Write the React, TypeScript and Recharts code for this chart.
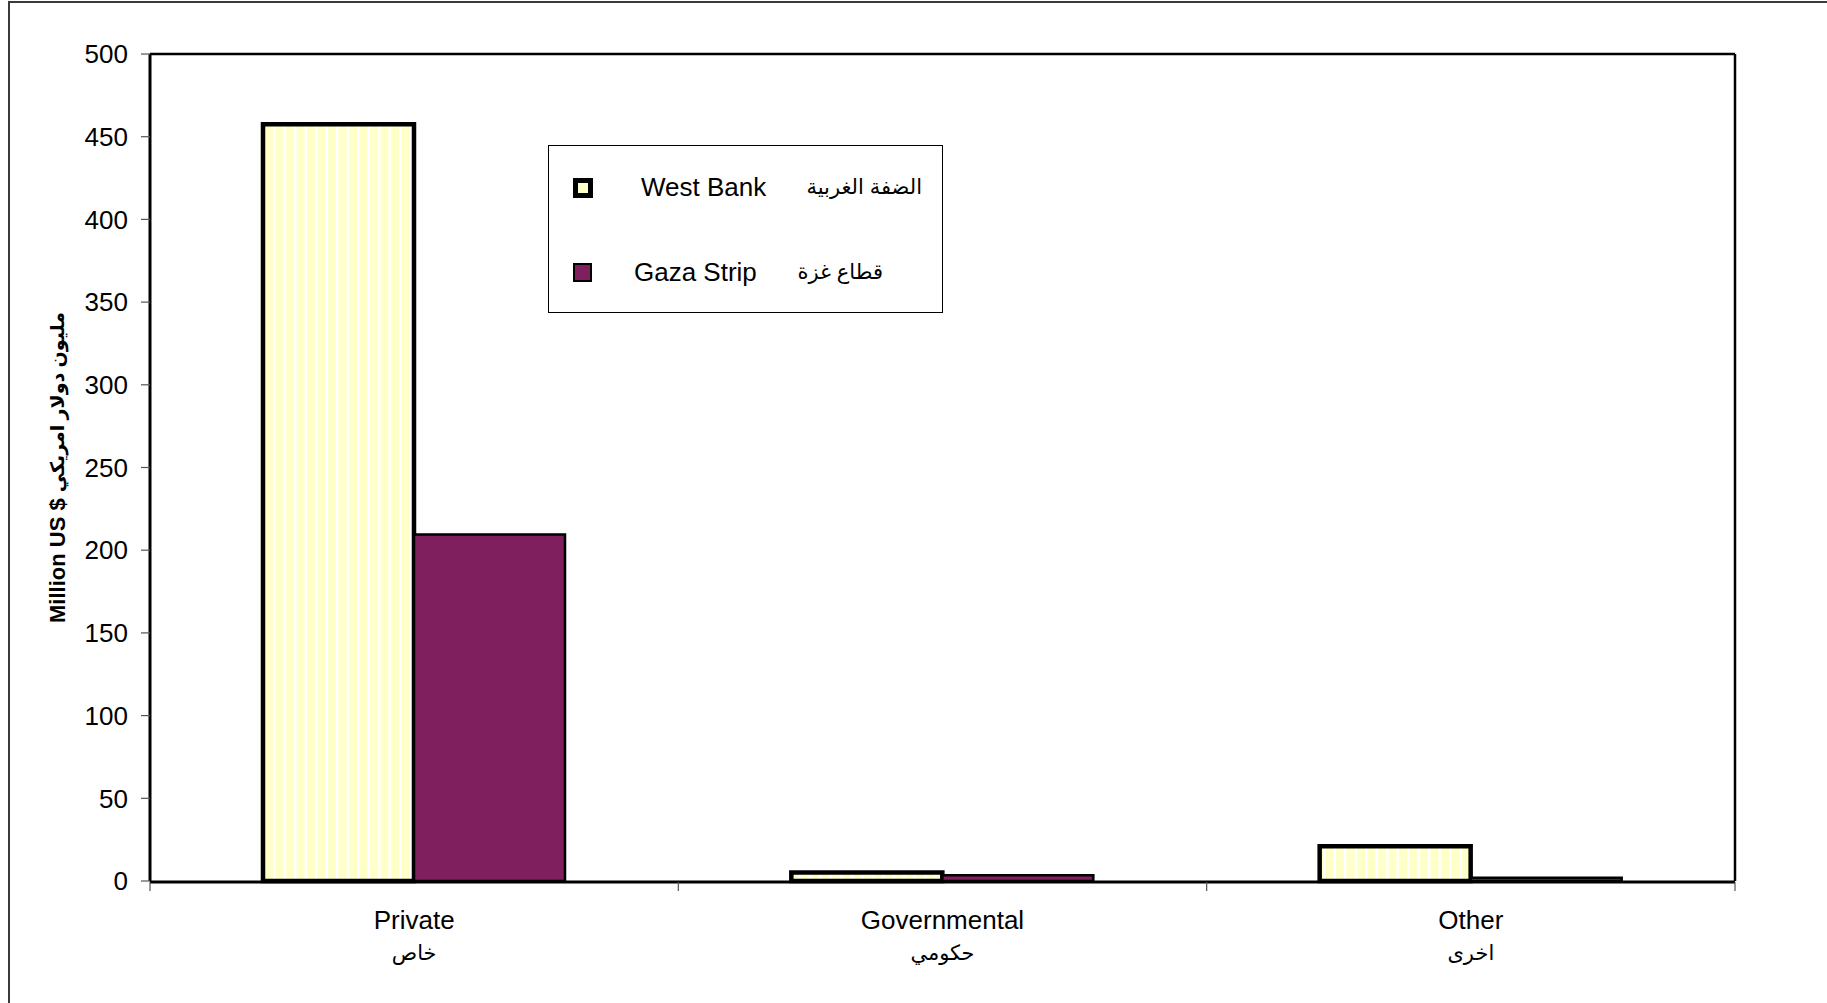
import React from 'react'
import {
  BarChart,
  Bar,
  XAxis,
  YAxis,
  Legend,
  Label,
} from 'recharts'

const categories = ['Private', 'Governmental', 'Other']
const categoriesAr = ['خاص', 'حكومي', 'اخرى']
const westBank = [457.5, 5.2, 21]
const gazaStrip = [209.5, 3.5, 2]
const yTicks = [0, 50, 100, 150, 200, 250, 300, 350, 400, 450, 500]
const edgeTicks = [0, 1, 2, 3]

const seriesOrder = ['westBank', 'gaza']
const seriesAr: Record<string, string> = {
  westBank: 'الضفة الغربية',
  gaza: 'قطاع غزة',
}

const FONT = '"Liberation Sans", Arial, "DejaVu Sans", sans-serif'
const YELLOW = '#FFFFC8'
const PLUM = '#801F5E'

const data = categories.map((name, i) => ({
  name,
  idx: i + 0.5,
  westBank: westBank[i],
  gaza: gazaStrip[i],
}))

// eslint-disable-next-line @typescript-eslint/no-explicit-any
function CategoryTick({ x, y, payload }: any) {
  const i = categories.indexOf(payload.value)
  return (
    <g>
      <text x={x} y={y + 46} textAnchor="middle" fontSize={26} fontFamily={FONT} fill="#000">
        {payload.value}
      </text>
      <text x={x} y={y + 77} textAnchor="middle" fontSize={21} fontFamily={FONT} fill="#000">
        {categoriesAr[i]}
      </text>
    </g>
  )
}

// eslint-disable-next-line @typescript-eslint/no-explicit-any
function LegendBox({ payload }: any) {
  const rows = [
    { top: 32, textY: 41, enLeft: 92, arRight: 20, size: 20, border: 5 },
    { top: 117, textY: 126, enLeft: 85, arRight: 59, size: 19, border: 2 },
  ]
  // eslint-disable-next-line @typescript-eslint/no-explicit-any
  const items = seriesOrder.map(k => (payload || []).find((p: any) => p.dataKey === k)).filter(Boolean)
  return (
    <div
      style={{
        position: 'relative',
        width: 395,
        height: 168,
        border: '1.5px solid #000',
        boxSizing: 'border-box',
        background: '#fff',
        fontFamily: FONT,
        color: '#000',
      }}
    >
      {/* eslint-disable-next-line @typescript-eslint/no-explicit-any */}
      {items.map((p: any, i: number) => {
        const r = rows[i]
        return (
          <React.Fragment key={p.dataKey}>
            <div
              style={{
                position: 'absolute',
                left: 24,
                top: r.top,
                width: r.size,
                height: r.size,
                boxSizing: 'border-box',
                border: `${r.border}px solid #000`,
                background: p.dataKey === 'gaza' ? PLUM : YELLOW,
              }}
            />
            <div
              style={{
                position: 'absolute',
                left: r.enLeft,
                top: r.textY - 16,
                fontSize: 26,
                lineHeight: '32px',
                whiteSpace: 'nowrap',
              }}
            >
              {p.value}
            </div>
            <div
              dir="rtl"
              style={{
                position: 'absolute',
                right: r.arRight,
                top: r.textY - 16,
                fontSize: 21,
                lineHeight: '32px',
                whiteSpace: 'nowrap',
              }}
            >
              {seriesAr[p.dataKey]}
            </div>
          </React.Fragment>
        )
      })}
    </div>
  )
}

export default function App() {
  return (
    <div style={{ position: 'absolute', left: 0, top: 0, width: 1827, height: 1003, background: '#fff' }}>
      <div
        style={{
          position: 'absolute',
          left: 8,
          top: 1,
          width: 1830,
          height: 1010,
          borderLeft: '2px solid #3a3a3a',
          borderTop: '2px solid #3a3a3a',
        }}
      />
      <div style={{ position: 'absolute', left: 0, top: 0 }}>
        <BarChart
          width={1827}
          height={1003}
          data={data}
          margin={{ top: 53, right: 91, bottom: 120, left: 50 }}
          barGap={0}
        >
          <defs>
            <pattern id="wbStripes" width="10.5" height="10" patternUnits="userSpaceOnUse">
              <rect x="0" y="0" width="10.5" height="10" fill={YELLOW} />
              <rect x="0" y="0" width="2.5" height="10" fill="#ffffff" />
            </pattern>
          </defs>
          <XAxis
            xAxisId="edge"
            dataKey="idx"
            type="number"
            domain={[0, 3]}
            ticks={edgeTicks}
            allowDataOverflow
            height={1}
            tickSize={9}
            tickFormatter={() => ''}
            tickLine={{ stroke: '#555', strokeWidth: 1.2 }}
            axisLine={{ stroke: '#000', strokeWidth: 3 }}
          />
          <XAxis
            xAxisId="cat"
            dataKey="name"
            height={1}
            axisLine={false}
            tickLine={false}
            tickSize={0}
            tick={<CategoryTick />}
            interval={0}
          />
          <XAxis
            xAxisId="top"
            dataKey="name"
            orientation="top"
            height={1}
            tick={false}
            tickLine={false}
            axisLine={{ stroke: '#000', strokeWidth: 2.5 }}
          />
          <YAxis
            domain={[0, 500]}
            ticks={yTicks}
            width={100}
            interval={0}
            tickSize={9}
            tickMargin={13}
            tick={{ fill: '#000', fontSize: 26, fontFamily: FONT }}
            tickLine={{ stroke: '#555', strokeWidth: 1.2 }}
            axisLine={{ stroke: '#000', strokeWidth: 3 }}
          >
            <Label
              // eslint-disable-next-line @typescript-eslint/no-explicit-any
              content={({ viewBox }: any) => {
                const cx = viewBox.x + 7
                const cy = viewBox.y + viewBox.height / 2
                return (
                  <text
                    x={cx}
                    y={cy}
                    transform={`rotate(-90, ${cx}, ${cy})`}
                    textAnchor="middle"
                    dominantBaseline="central"
                    fontSize={22}
                    fontWeight="bold"
                    fontFamily={FONT}
                    fill="#000"
                  >
                    Million US ${' '}
                    <tspan fontSize={19}>مليون دولار امريكي</tspan>
                  </text>
                )
              }}
            />
          </YAxis>
          <YAxis
            yAxisId="right"
            orientation="right"
            domain={[0, 500]}
            width={1}
            tick={false}
            tickLine={false}
            axisLine={{ stroke: '#000', strokeWidth: 2.5 }}
          />
          <Legend
            layout="vertical"
            align="center"
            verticalAlign="middle"
            content={<LegendBox />}
            wrapperStyle={{ left: 548, top: 145, width: 395, height: 168 }}
          />
          <Bar
            xAxisId="cat"
            dataKey="westBank"
            name="West Bank"
            barSize={151}
            fill="url(#wbStripes)"
            stroke="#000"
            strokeWidth={4.5}
            isAnimationActive={false}
          />
          <Bar
            xAxisId="cat"
            dataKey="gaza"
            name="Gaza Strip"
            barSize={151}
            fill={PLUM}
            stroke="#000"
            strokeWidth={2.5}
            isAnimationActive={false}
          />
        </BarChart>
      </div>
    </div>
  )
}
